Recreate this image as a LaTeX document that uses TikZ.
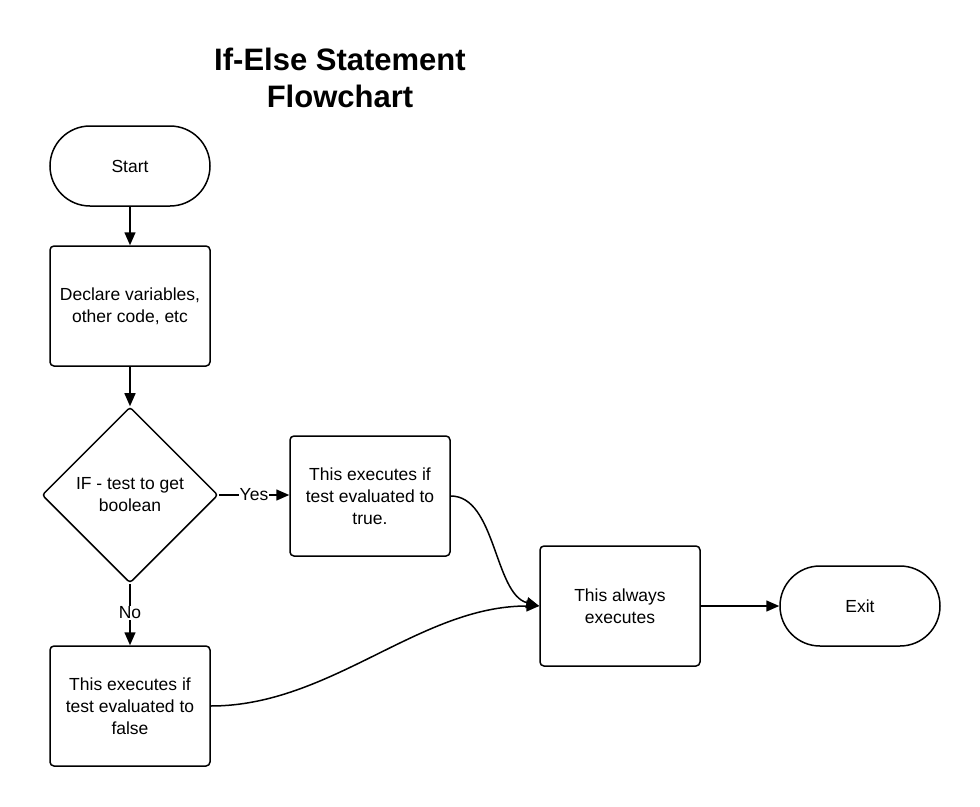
\documentclass[tikz,border=0pt]{standalone}
\usepackage{fontspec}
\setmainfont{Liberation Sans}
\usetikzlibrary{shapes.geometric,arrows.meta}
\begin{document}
\begin{tikzpicture}[x=1pt,y=-1pt,
  every node/.style={font=\fontsize{17.5}{22}\selectfont, align=center},
  boxst/.style={draw, line width=1.5pt, rounded corners=4pt, minimum width=160pt, minimum height=120pt, inner sep=0pt},
  termst/.style={draw, line width=1.5pt, rounded corners=40pt, minimum width=160pt, minimum height=80pt, inner sep=0pt},
  decst/.style={draw, line width=1.5pt, diamond, rounded corners=3pt, minimum width=176pt, minimum height=176pt, inner sep=0pt},
  arr/.style={line width=1.5pt, -{Triangle[length=13pt,width=11pt]}},
  lbl/.style={fill=white, inner sep=1pt}]
\useasboundingbox (0,0) rectangle (980,806);
\node[font=\bfseries\fontsize{31}{37}\selectfont] (title) at (340,78) {If-Else Statement\\Flowchart};
\node[termst] (start) at (130,166) {Start};
\node[boxst] (decl) at (130,306) {Declare variables,\\other code, etc};
\node[decst] (dec) at (130,495) {IF - test to get\\boolean};
\node[boxst] (tru) at (370,496) {This executes if\\test evaluated to\\true.};
\node[boxst] (fal) at (130,706) {This executes if\\test evaluated to\\false};
\node[boxst] (alw) at (620,606) {This always\\executes};
\node[termst] (exit) at (860,606) {Exit};
\draw[arr] (start) -- (decl);
\draw[arr] (decl) -- (dec);
\draw[arr] (dec.east) -- node[lbl, pos=0.5] {Yes} (tru.west |- dec.east);
\draw[arr] (dec.south) -- node[lbl, pos=0.47] {No} (fal.north);
\draw[arr] (tru.east) .. controls +(45,0) and +(-45,-12) .. (alw.west);
\draw[arr] (fal.east) .. controls +(120,0) and +(-120,0) .. (alw.west);
\draw[arr] (alw) -- (exit);
\end{tikzpicture}
\end{document}
